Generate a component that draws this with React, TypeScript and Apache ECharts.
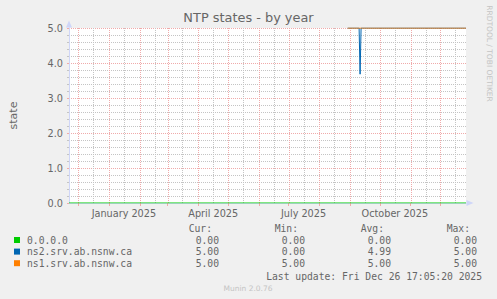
import React, { useEffect, useRef } from 'react';
import * as echarts from 'echarts';

const chartTitle = 'NTP states - by year';
const yAxisName = 'state';
const startTime = '2024-11-21T17:05:20';
const endTime = '2025-12-26T17:05:20';

const seriesNames = ['0.0.0.0', 'ns2.srv.ab.nsnw.ca', 'ns1.srv.ab.nsnw.ca'];
const seriesColors = ['#00CC00', '#0066B3', '#FF8000'];

const zeroDates = ['2024-11-21T17:05:20', '2025-12-26T17:05:20'];
const zeroValues = [0, 0];
const ns2Dates = ['2025-08-29T12:00:00', '2025-09-10T00:00:00', '2025-09-11T00:00:00', '2025-09-12T00:00:00', '2025-12-26T17:05:20'];
const ns2Values = [5, 5, 3.68, 5, 5];
const ns1Dates = ['2025-08-29T12:00:00', '2025-12-26T17:05:20'];
const ns1Values = [5, 5];

const monthStarts = ['2024-12-01', '2025-01-01', '2025-02-01', '2025-03-01', '2025-04-01', '2025-05-01', '2025-06-01', '2025-07-01', '2025-08-01', '2025-09-01', '2025-10-01', '2025-11-01', '2025-12-01'];
const midMonths = ['2024-12-16', '2025-01-16', '2025-02-16', '2025-03-16', '2025-04-16', '2025-05-16', '2025-06-16', '2025-07-16', '2025-08-16', '2025-09-16', '2025-10-16', '2025-11-16', '2025-12-16'];
const labelDates = ['2025-01-16', '2025-04-16', '2025-07-16', '2025-10-16'];
const labelNames = ['January 2025', 'April 2025', 'July 2025', 'October 2025'];

const legendHeaders = ['Cur:', 'Min:', 'Avg:', 'Max:'];
const curValues = ['0.00', '5.00', '5.00'];
const minValues = ['0.00', '0.00', '5.00'];
const avgValues = ['0.00', '4.99', '5.00'];
const maxValues = ['0.00', '5.00', '5.00'];
const lastUpdate = 'Last update: Fri Dec 26 17:05:20 2025';
const watermark = 'Munin 2.0.76';
const sideText = 'RRDTOOL / TOBI OETIKER';

const ts = (s: string) => new Date(s.length === 10 ? s + 'T00:00:00' : s).getTime();

const FONT = '#666666';
const MGRID = '#F0AAAA';
const GRID = '#C4C4C4';
const AXIS = '#CFD6F8';
const MONO = '"DejaVu Sans Mono"';
const Y_MIN = 0;
const Y_MAX = 5;

export default function App() {
  const ref = useRef<HTMLDivElement>(null);
  useEffect(() => {
    if (!ref.current) return;
    const chart = echarts.init(ref.current, undefined, { renderer: 'svg' });
    const labelTimes = labelDates.map(ts);
    const monthTimes = monthStarts.map(ts);
    const midTimes = midMonths.map(ts);
    const pair = (d: string[], v: number[]) => d.map((x, i) => [ts(x), v[i]]);
    const seriesData = [pair(zeroDates, zeroValues), pair(ns2Dates, ns2Values), pair(ns1Dates, ns1Values)];
    const gridLineData = [...midTimes.map((t) => [t, 1]), ...monthTimes.map((t) => [t, 0])];

    const rowY = [240, 251.6, 263.2];
    const colRight = [219, 305, 391, 477];
    const headRight = [212, 298, 384, 470];
    const cols = [curValues, minValues, avgValues, maxValues];
    const monoFont = `9.7px ${MONO}`;
    const graphics: any[] = [];
    legendHeaders.forEach((h, j) => {
      graphics.push({ type: 'text', x: headRight[j], y: 228, style: { text: h, font: monoFont, fill: FONT, textAlign: 'right', textVerticalAlign: 'middle' } });
    });
    seriesNames.forEach((n, i) => {
      graphics.push({ type: 'rect', shape: { x: 14, y: rowY[i] - 3, width: 6, height: 6 }, style: { fill: seriesColors[i] } });
      graphics.push({ type: 'text', x: 27, y: rowY[i], style: { text: n, font: monoFont, fill: FONT, textAlign: 'left', textVerticalAlign: 'middle' } });
      cols.forEach((c, j) => {
        graphics.push({ type: 'text', x: colRight[j], y: rowY[i], style: { text: c[i], font: monoFont, fill: FONT, textAlign: 'right', textVerticalAlign: 'middle' } });
      });
    });
    graphics.push({ type: 'text', x: 482, y: 276, style: { text: lastUpdate, font: monoFont, fill: FONT, textAlign: 'right', textVerticalAlign: 'middle' } });
    graphics.push({ type: 'text', x: 248, y: 288.5, style: { text: watermark, font: '7.5px "DejaVu Sans"', fill: '#C4C4C4', textAlign: 'center', textVerticalAlign: 'middle' } });
    graphics.push({ type: 'text', x: 489, y: 53.5, rotation: -Math.PI / 2, style: { text: sideText, font: '7.5px "DejaVu Sans"', fill: '#C4C4C4', textAlign: 'center', textVerticalAlign: 'middle' } });

    chart.setOption({
      animation: false,
      backgroundColor: '#F0F0F0',
      textStyle: { fontFamily: 'DejaVu Sans' },
      title: {
        text: chartTitle, left: 'center', top: 11, padding: 0,
        textStyle: { fontSize: 12.9, fontWeight: 'normal', color: FONT, fontFamily: 'DejaVu Sans' },
      },
      grid: { left: 66, right: 31, top: 28, bottom: 96, show: true, backgroundColor: '#FFFFFF', borderWidth: 0 },
      xAxis: {
        type: 'value', min: ts(startTime), max: ts(endTime),
        axisLine: { show: true, lineStyle: { color: AXIS, width: 1 }, symbol: ['none', 'triangle'], symbolSize: [6, 7], symbolOffset: [0, 4] },
        axisTick: { show: true, customValues: monthTimes, length: 3, lineStyle: { color: MGRID } },
        axisLabel: {
          customValues: labelTimes, color: FONT, fontSize: 9.7, margin: 5, fontFamily: 'DejaVu Sans',
          formatter: (v: number) => { const i = labelTimes.indexOf(v); return i >= 0 ? labelNames[i] : ''; },
        },
        splitLine: { show: false },
      },
      yAxis: {
        type: 'value', min: Y_MIN, max: Y_MAX, interval: 1,
        name: yAxisName, nameLocation: 'middle', nameGap: 50,
        nameTextStyle: { color: FONT, fontSize: 11, fontFamily: 'DejaVu Sans' },
        axisLine: { show: true, lineStyle: { color: AXIS, width: 1 }, symbol: ['none', 'triangle'], symbolSize: [6, 7], symbolOffset: [0, 4] },
        axisTick: { show: true, length: 2, lineStyle: { color: MGRID } },
        minorTick: { show: true, splitNumber: 5, length: 2, lineStyle: { color: GRID } },
        axisLabel: { color: FONT, fontSize: 9.7, margin: 6, fontFamily: 'DejaVu Sans', formatter: (v: number) => v.toFixed(1) },
        splitLine: { show: true, lineStyle: { color: MGRID, type: [1, 1], width: 1 } },
        minorSplitLine: { show: true, lineStyle: { color: GRID, type: [1, 1], width: 1 } },
      },
      graphic: graphics,
      series: [
        {
          type: 'custom', name: 'grid', data: gridLineData, z: 1, silent: true,
          renderItem: (_params: any, api: any) => {
            const t = api.value(0);
            const minor = api.value(1) === 1;
            const p0 = api.coord([t, Y_MIN]);
            const p1 = api.coord([t, Y_MAX]);
            const x = Math.round(p0[0]) + 0.5;
            return {
              type: 'line',
              shape: { x1: x, y1: p0[1], x2: x, y2: p1[1] },
              style: { stroke: minor ? GRID : MGRID, lineWidth: 1, lineDash: [1, 1] },
              silent: true,
            };
          },
        },
        ...seriesData.map((d, i) => ({
          type: 'line', name: seriesNames[i], data: d, z: 3 + i, showSymbol: false, symbol: 'none', silent: true,
          lineStyle: { color: seriesColors[i], width: 1 }, itemStyle: { color: seriesColors[i] },
        })),
      ],
    });
    return () => chart.dispose();
  }, []);
  return <div ref={ref} style={{ position: 'fixed', left: 0, top: 0, width: 497, height: 299 }} />;
}
